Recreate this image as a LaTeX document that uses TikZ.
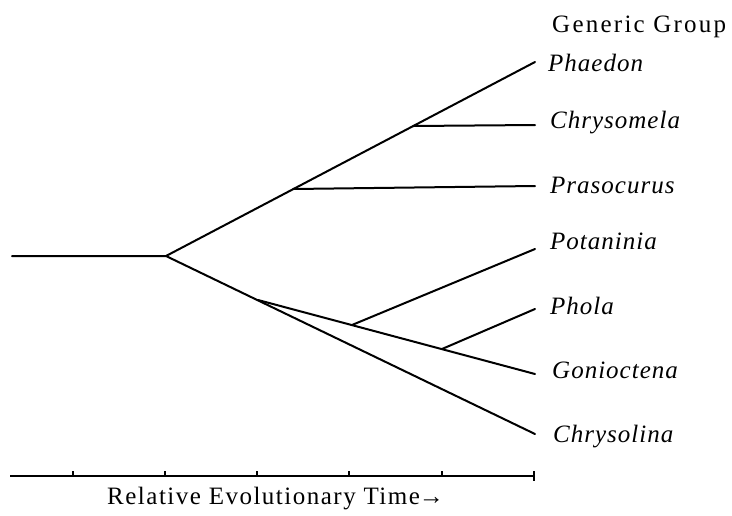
\documentclass[tikz,border=0pt]{standalone}
\usepackage{fontspec}
\setmainfont{Liberation Serif}
\newfontfamily\gpTaxonFont[LetterSpace=4]{Liberation Serif}
\newfontfamily\gpHeadFont[LetterSpace=9]{Liberation Serif}
\newfontfamily\gpAxisFont[LetterSpace=6]{Liberation Serif}
\newcommand{\gpSize}{\fontsize{25}{30}\selectfont}

\begin{document}
\begin{tikzpicture}[x=1pt,y=-1pt,
  branch/.style={line width=2pt, line cap=round, line join=round},
  axisline/.style={line width=1.8pt},
  taxon/.style={anchor=base west, inner sep=0pt, font=\gpTaxonFont\itshape\gpSize},
  heading/.style={anchor=base west, inner sep=0pt, font=\gpHeadFont\gpSize},
  axislabel/.style={anchor=base west, inner sep=0pt, font=\gpAxisFont\gpSize}]
\useasboundingbox (0,0) rectangle (732,515);
\coordinate (rootStart) at (12,256);
\coordinate (fork) at (166,256);
\coordinate (upperSplitA) at (293,189);
\coordinate (upperSplitB) at (413,126);
\coordinate (lowerSplit) at (258,300);
\coordinate (lowerSplitA) at (352,325);
\coordinate (lowerSplitB) at (442,349);
\coordinate (tipPhaedon) at (535,62);
\coordinate (tipChrysomela) at (535,125);
\coordinate (tipPrasocurus) at (535,186);
\coordinate (tipPotaninia) at (535,249);
\coordinate (tipPhola) at (535,309);
\coordinate (tipGonioctena) at (535,374);
\coordinate (tipChrysolina) at (535,434);
\draw[branch] (rootStart) -- (fork) -- (tipPhaedon);
\draw[branch] (fork) -- (tipChrysolina);
\draw[branch] (upperSplitA) -- (tipPrasocurus);
\draw[branch] (upperSplitB) -- (tipChrysomela);
\draw[branch] (lowerSplit) -- (tipGonioctena);
\draw[branch] (lowerSplitA) -- (tipPotaninia);
\draw[branch] (lowerSplitB) -- (tipPhola);
\node[heading] (headGroup) at (552,32) {Generic Group};
\node[taxon] (labPhaedon) at (548,71) {Phaedon};
\node[taxon] (labChrysomela) at (550,128) {Chrysomela};
\node[taxon] (labPrasocurus) at (550,193) {Prasocurus};
\node[taxon] (labPotaninia) at (550,249) {Potaninia};
\node[taxon] (labPhola) at (550,314) {Phola};
\node[taxon] (labGonioctena) at (552,378) {Gonioctena};
\node[taxon] (labChrysolina) at (553,442) {Chrysolina};
\coordinate (axisStart) at (10,476);
\coordinate (axisEnd) at (534,476);
\draw[axisline] (axisStart) -- (axisEnd);
\foreach \t in {73,165,257,349,442}
  \draw[axisline] (\t,476) -- (\t,471);
\draw[axisline] (534,471) -- (534,481);
\node[axislabel] (labTime) at (107,504) {Relative Evolutionary Time\kern-1pt→};
\end{tikzpicture}
\end{document}
